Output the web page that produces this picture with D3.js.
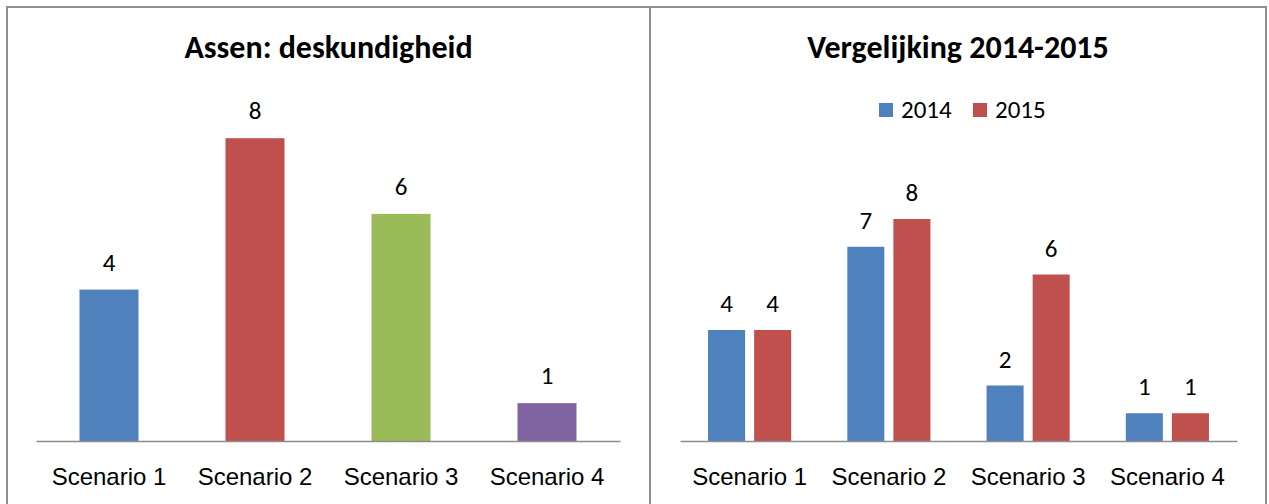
<!DOCTYPE html>
<html>
<head>
<meta charset="utf-8">
<script src="https://cdn.jsdelivr.net/npm/d3@7"></script>
<style>
    body { margin: 0; background: #fff; }
    svg { display: block; font-family: Carlito, Calibri, Lato, sans-serif; }
</style>
</head>
<body>
<svg id="chart" width="1269" height="504"></svg>
<script>
// data
const scenarios = ["Scenario 1", "Scenario 2", "Scenario 3", "Scenario 4"]
const deskundigheid = [4, 8, 6, 1]
const years = ["2014", "2015"]
const values2014 = [4, 7, 2, 1]
const values2015 = [4, 8, 6, 1]

const LEFT_COLORS = ["#4F81BD", "#C0504D", "#9BBB59", "#8064A2"]
const YEAR_COLORS = ["#4F81BD", "#C0504D"]
const BORDER = "#8e8e8e"
const AXIS = "#8c8c8c"
const BASE = 441
const LABEL_SIZE = 24
const VALUE_SIZE = 25
const TITLE_SIZE = 32

const svg = d3.select("#chart")
svg.append("rect").attr("width", 1269).attr("height", 504).attr("fill", "#fff")

// panel borders
svg.append("rect").attr("x", 7).attr("y", 7).attr("width", 643).attr("height", 520)
    .attr("fill", "none").attr("stroke", BORDER).attr("stroke-width", 2)
svg.append("rect").attr("x", 650).attr("y", 7).attr("width", 616).attr("height", 520)
    .attr("fill", "none").attr("stroke", BORDER).attr("stroke-width", 2)

function drawAxis(g, x) {
    const axis = d3.axisBottom(x).tickSize(0).tickPadding(0)
    const ax = g.append("g").attr("transform", `translate(0,${BASE})`).call(axis)
    ax.select(".domain").attr("stroke", AXIS).attr("stroke-width", 1.5)
    ax.selectAll("text")
        .attr("y", 44).attr("dy", null)
        .attr("font-size", LABEL_SIZE)
        .attr("font-family", null)
        .attr("fill", "#000")
}

//------------------ left chart ------------------
function drawLeft() {
    const g = svg.append("g")
    const x = d3.scaleBand().domain(scenarios).range([36, 620])
        .paddingInner(0.596).paddingOuter(0.298)
    const y = d3.scaleLinear().domain([0, 9]).range([BASE, BASE - 9 * 37.85])

    g.append("text").text("Assen: deskundigheid")
        .attr("x", 328.5).attr("y", 58)
        .attr("text-anchor", "middle").attr("font-weight", "bold")
        .attr("font-size", TITLE_SIZE)

    const data = scenarios.map((s, i) => ({ s, v: deskundigheid[i], c: LEFT_COLORS[i] }))

    g.selectAll(".bar").data(data).enter().append("rect")
        .attr("x", d => x(d.s))
        .attr("width", x.bandwidth())
        .attr("y", d => y(d.v))
        .attr("height", d => y(0) - y(d.v))
        .attr("fill", d => d.c)

    g.selectAll(".lbl").data(data).enter().append("text")
        .attr("x", d => x(d.s) + x.bandwidth() / 2)
        .attr("y", d => y(d.v) - 19)
        .attr("text-anchor", "middle")
        .attr("font-size", VALUE_SIZE)
        .text(d => d.v)

    drawAxis(g, x)
}

//------------------ right chart ------------------
function drawRight() {
    const g = svg.append("g")
    const x0 = d3.scaleBand().domain(scenarios).range([680, 1237])
    const x1 = d3.scaleBand().domain(years).range([0, x0.bandwidth()])
        .paddingInner(0.196).paddingOuter(0.609)
    const y = d3.scaleLinear().domain([0, 9]).range([BASE, BASE - 9 * 27.75])

    g.append("text").text("Vergelijking 2014-2015")
        .attr("x", 958).attr("y", 58)
        .attr("text-anchor", "middle").attr("font-weight", "bold")
        .attr("font-size", TITLE_SIZE)

    // legend
    const legendX = [879, 973]
    years.forEach((yr, i) => {
        svg.append("rect").attr("x", legendX[i]).attr("y", 103)
            .attr("width", 14).attr("height", 14).attr("fill", YEAR_COLORS[i])
        svg.append("text").attr("x", legendX[i] + 22).attr("y", 118)
            .attr("font-size", VALUE_SIZE).text(yr)
    })

    const data = []
    scenarios.forEach((s, i) => {
        data.push({ s, yr: "2014", v: values2014[i], c: YEAR_COLORS[0] })
        data.push({ s, yr: "2015", v: values2015[i], c: YEAR_COLORS[1] })
    })

    g.selectAll(".bar").data(data).enter().append("rect")
        .attr("x", d => x0(d.s) + x1(d.yr))
        .attr("width", x1.bandwidth())
        .attr("y", d => y(d.v))
        .attr("height", d => y(0) - y(d.v))
        .attr("fill", d => d.c)

    g.selectAll(".lbl").data(data).enter().append("text")
        .attr("x", d => x0(d.s) + x1(d.yr) + x1.bandwidth() / 2)
        .attr("y", d => y(d.v) - 18)
        .attr("text-anchor", "middle")
        .attr("font-size", VALUE_SIZE)
        .text(d => d.v)

    drawAxis(g, x0)
}

drawLeft()
drawRight()
</script>
</body>
</html>
